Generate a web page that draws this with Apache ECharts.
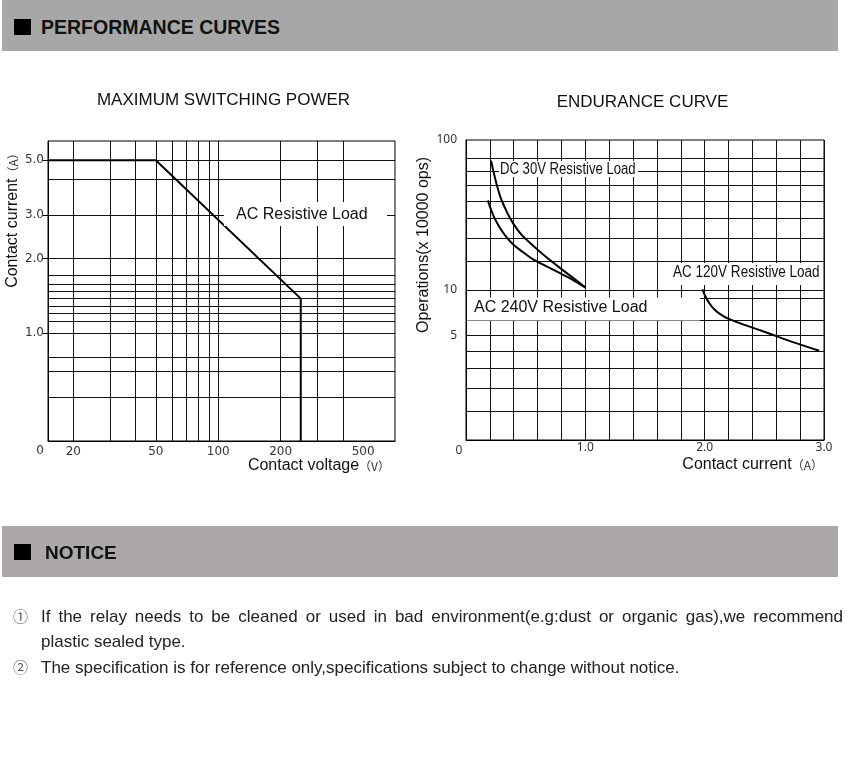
<!DOCTYPE html>
<html><head><meta charset="utf-8">
<script src="https://cdn.jsdelivr.net/npm/echarts@6/dist/echarts.min.js"></script>
<style>
html,body{margin:0;padding:0;background:#fff;width:850px;height:768px;overflow:hidden;}
#chart{position:absolute;left:0;top:0;width:850px;height:768px;}
.band{position:absolute;left:2px;width:836px;height:51px;}
.sq{position:absolute;left:14px;width:17px;height:16px;background:#000;}
.htxt{position:absolute;font-family:'Liberation Sans',Arial,sans-serif;font-weight:bold;color:#111;line-height:1;white-space:nowrap;}
.note{position:absolute;font-family:'Liberation Sans',Arial,sans-serif;font-size:17px;color:#222;line-height:20px;white-space:nowrap;}
.num{position:absolute;font-family:'Noto Sans CJK JP','Noto Sans CJK SC',sans-serif;font-size:15px;color:#555;line-height:20px;width:15px;text-align:center;}
</style></head><body>
<div id="chart"></div>
<div class="band" style="top:0;background:#a7a7a7"></div>
<div class="sq" style="top:19px"></div>
<div class="htxt" style="left:41px;top:17.5px;font-size:19.5px">PERFORMANCE CURVES</div>
<div class="band" style="top:526px;background:#aca8a8"></div>
<div class="sq" style="top:543.5px"></div>
<div class="htxt" style="left:45px;top:542.7px;font-size:19px">NOTICE</div>
<div class="num" style="left:13px;top:606px">①</div>
<div class="note" style="left:41px;top:607px;width:802px;white-space:normal;text-align:justify;text-align-last:justify;">If the relay needs to be cleaned or used in bad environment(e.g:dust or organic gas),we recommend</div>
<div class="note" style="left:41px;top:632px">plastic sealed type.</div>
<div class="num" style="left:13px;top:657px">②</div>
<div class="note" style="left:41px;top:658px">The specification is for reference only,specifications subject to change without notice.</div>
<script>
// ---- Maximum switching power (left) ----
const leftVoltage = [15.1, 50, 250, 250];
const leftCurrent = [5.0, 5.0, 1.38, 0.367];
const leftXGrid = [20, 30, 40, 50, 60, 70, 80, 90, 100, 200, 300, 400];
const leftXLabels = [20, 50, 100, 200, 500];
const leftYGrid = [0.55, 0.7, 0.8, 1, 1.12, 1.2, 1.29, 1.38, 1.48, 1.58, 1.71, 2, 3, 4.2, 5];
const leftYLabels = [1, 2, 3, 5];

// ---- Endurance curve (right) ----
const rightXLabels = [1, 2, 3];
const rightYGrid = [1.55, 2.2, 3, 3.9, 5, 6.3, 8.8, 10, 15.5, 22, 30, 39, 50, 62, 75];
const rightYLabels = [5, 10, 100];
const dc30Current = [0.21, 0.231, 0.26, 0.293, 0.341, 0.396, 0.468, 0.56, 0.667, 0.784, 0.894, 1.0];
const dc30Ops = [72.9, 61.3, 49.5, 40.6, 33.3, 27.7, 23.2, 19.8, 16.7, 14.1, 12.1, 10.4];
const ac240Current = [0.183, 0.202, 0.235, 0.285, 0.339, 0.396, 0.468, 0.562, 0.667, 0.784, 0.894, 1.0];
const ac240Ops = [39.6, 35.7, 30.6, 25.9, 22.5, 20.1, 18.1, 16.0, 14.5, 13.0, 11.7, 10.4];
const ac120Current = [1.981, 2.006, 2.039, 2.08, 2.13, 2.197, 2.309, 2.425, 2.587, 2.753, 2.959];
const ac120Ops = [10.1, 9.08, 8.16, 7.44, 6.9, 6.44, 5.95, 5.53, 4.97, 4.46, 3.94];

const zip = (a, b) => a.map((v, i) => [v, b[i]]);
const GRID = '#111';
const SANS = "'Liberation Sans', Arial, sans-serif";

const chart = echarts.init(document.getElementById('chart'), null, {renderer: 'canvas'});

function labelBox(x, y, w, h, tx, ty, text, sx) {
  return [
    {type: 'rect', z: 100, silent: true, shape: {x: x, y: y, width: w, height: h}, style: {fill: '#fff'}},
    {type: 'text', z: 101, silent: true, x: tx, y: ty, scaleX: sx || 1,
     style: {text: text, fontFamily: SANS, fontSize: 16, fill: '#111', align: 'left', verticalAlign: 'middle'}}
  ];
}
const curveStyle = {showSymbol: false, silent: true, smooth: 0.25, z: 5, lineStyle: {color: '#000', width: 2}};
const nameRich = {a: {fontFamily: SANS, fontSize: 16, fill: '#111', color: '#111'},
                  b: {fontFamily: "'Noto Sans CJK SC'", fontSize: 12, fill: '#333', color: '#333'}};

const option = {
  animation: false,
  title: [
    {text: 'MAXIMUM SWITCHING POWER', left: 218.5, top: 86.5, textAlign: 'center',
     textStyle: {fontFamily: SANS, fontSize: 17, fontWeight: 'normal', color: '#111'}},
    {text: 'ENDURANCE CURVE', left: 637.5, top: 88.5, textAlign: 'center',
     textStyle: {fontFamily: SANS, fontSize: 17, fontWeight: 'normal', color: '#111'}}
  ],
  grid: [
    {left: 48, top: 141, width: 347, height: 300, show: true, borderColor: '#000', borderWidth: 1, backgroundColor: 'transparent'},
    {left: 466, top: 140, width: 358, height: 300, show: true, borderColor: '#000', borderWidth: 1, backgroundColor: 'transparent'}
  ],
  xAxis: [
    {gridIndex: 0, type: 'log', logBase: 10, min: 15.1, max: 712,
     axisLine: {show: true, lineStyle: {color: '#000', width: 1}},
     axisTick: {show: false, customValues: leftXGrid},
     splitLine: {show: true, lineStyle: {color: GRID, width: 1}},
     axisLabel: {customValues: leftXLabels, margin: 5, fontFamily: "'DejaVu Sans', sans-serif", fontSize: 12, color: '#333'}},
    {gridIndex: 1, type: 'value', min: 0, max: 3, interval: 0.2,
     axisLine: {show: true, lineStyle: {color: '#000', width: 1}},
     axisTick: {show: false},
     splitLine: {show: true, lineStyle: {color: GRID, width: 1}},
     axisLabel: {customValues: rightXLabels, margin: 2, formatter: v => Number(v).toFixed(1),
       fontFamily: "'Noto Sans', sans-serif", fontSize: 12, color: '#333'}}
  ],
  yAxis: [
    {gridIndex: 0, type: 'log', logBase: 10, min: 0.367, max: 5.98, position: 'left',
     axisLine: {show: true, lineStyle: {color: '#000'}},
     axisTick: {show: true, length: 5, customValues: leftYLabels, lineStyle: {color: '#000'}},
     splitLine: {show: false},
     axisLabel: {customValues: leftYLabels, margin: 4, formatter: v => Number(v).toFixed(1),
       fontFamily: "'DejaVu Sans', sans-serif", fontSize: 12, color: '#333'}},
    {gridIndex: 0, type: 'log', logBase: 10, min: 0.367, max: 5.98, position: 'left',
     axisLine: {show: false}, axisTick: {show: false, customValues: leftYGrid},
     axisLabel: {show: false},
     splitLine: {show: true, lineStyle: {color: GRID, width: 1}}},
    {gridIndex: 1, type: 'log', logBase: 10, min: 1, max: 100, position: 'left',
     axisLine: {show: true, lineStyle: {color: '#000'}},
     axisTick: {show: false, customValues: rightYGrid},
     splitLine: {show: true, lineStyle: {color: GRID, width: 1}},
     axisLabel: {customValues: rightYLabels, margin: 9,
       fontFamily: "'Noto Sans', sans-serif", fontSize: 12, color: '#333'}}
  ],
  series: [
    {name: 'AC Resistive Load', type: 'line', xAxisIndex: 0, yAxisIndex: 0, data: zip(leftVoltage, leftCurrent),
     showSymbol: false, silent: true, z: 5, lineStyle: {color: '#000', width: 2}},
    Object.assign({name: 'DC 30V Resistive Load', type: 'line', xAxisIndex: 1, yAxisIndex: 2, data: zip(dc30Current, dc30Ops)}, curveStyle),
    Object.assign({name: 'AC 240V Resistive Load', type: 'line', xAxisIndex: 1, yAxisIndex: 2, data: zip(ac240Current, ac240Ops)}, curveStyle),
    Object.assign({name: 'AC 120V Resistive Load', type: 'line', xAxisIndex: 1, yAxisIndex: 2, data: zip(ac120Current, ac120Ops)}, curveStyle)
  ],
  graphic: [].concat(
    labelBox(224, 202, 163, 24, 236, 214.5, 'AC Resistive Load'),
    labelBox(499, 161, 139, 16, 500, 169.5, 'DC 30V Resistive Load', 0.82),
    labelBox(672, 263, 150, 22, 673, 273, 'AC 120V Resistive Load', 0.845),
    labelBox(467, 297.5, 233, 23, 474, 307.5, 'AC 240V Resistive Load'),
    [
      {type: 'text', z: 101, x: 40, y: 451, style: {text: '0', fontFamily: "'DejaVu Sans', sans-serif", fontSize: 12, fill: '#333', align: 'center', verticalAlign: 'middle'}},
      {type: 'text', z: 101, x: 459, y: 451, style: {text: '0', fontFamily: "'Noto Sans', sans-serif", fontSize: 12, fill: '#333', align: 'center', verticalAlign: 'middle'}},
      {type: 'text', z: 101, x: 390, y: 466, style: {text: '{a|Contact voltage}{b|（V）}', align: 'right', verticalAlign: 'middle', rich: nameRich}},
      {type: 'text', z: 101, x: 823, y: 465, style: {text: '{a|Contact current}{b|（A）}', align: 'right', verticalAlign: 'middle', rich: nameRich}},
      {type: 'text', z: 101, x: 13, y: 217.5, rotation: Math.PI / 2, style: {text: '{a|Contact current}{b|（A）}', align: 'center', verticalAlign: 'middle', rich: nameRich}},
      {type: 'text', z: 101, x: 424, y: 245, rotation: Math.PI / 2, style: {text: 'Operations(x 10000 ops)', align: 'center', verticalAlign: 'middle',
        fontFamily: SANS, fontSize: 16, fill: '#111'}}
    ]
  )
};
chart.setOption(option);
</script>
</body></html>
